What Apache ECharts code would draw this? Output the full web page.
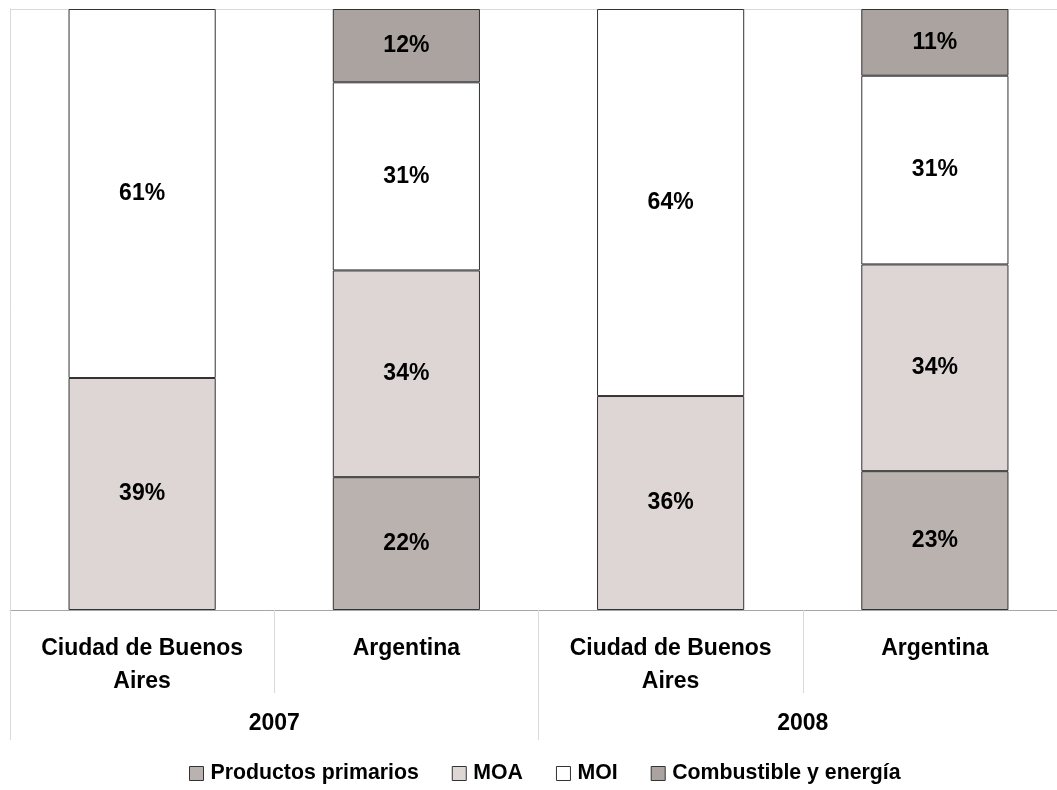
<!DOCTYPE html>
<html>
<head>
<meta charset="utf-8">
<script src="https://cdn.jsdelivr.net/npm/echarts@6/dist/echarts.min.js"></script>
<style>
  html, body { margin: 0; padding: 0; background: #fff; }
  #chart { width: 1057px; height: 790px; }
</style>
</head>
<body>
<div id="chart"></div>
<script>
  // categorias (region) y grupos (año)
  const regions = ['Ciudad de Buenos\nAires', 'Argentina', 'Ciudad de Buenos\nAires', 'Argentina']
  const years = ['2007', '2008']

  // participacion (%) por rubro
  const primarios = [0, 22.1, 0, 23.1]
  const moa = [38.6, 34.4, 35.6, 34.4]
  const moi = [61.4, 31.3, 64.4, 31.4]
  const combustible = [0, 12.2, 0, 11.1]

  const seriesNames = ['Productos primarios', 'MOA', 'MOI', 'Combustible y energía']
  const seriesData = [primarios, moa, moi, combustible]
  const seriesColors = ['#bab2af', '#ddd6d4', '#ffffff', '#aba3a0']

  const chart = echarts.init(document.getElementById('chart'))

  const option = {
    animation: false,
    textStyle: { fontFamily: 'Liberation Sans, Arial, sans-serif' },
    // el area del grafico sigue un poco mas alla del borde derecho
    grid: { left: 10, right: -10, top: 9, bottom: 180, outerBoundsMode: 'none', containLabel: false },
    legend: {
      data: seriesNames,
      bottom: 1,
      left: 184,
      itemWidth: 14,
      itemHeight: 14,
      itemGap: 33,
      icon: 'rect',
      textStyle: { fontSize: 21.3, fontWeight: 'bold', color: '#000', padding: [0, 0, 0, 2] },
      itemStyle: { borderColor: '#333', borderWidth: 1 }
    },
    xAxis: [
      {
        type: 'category',
        data: regions,
        position: 'bottom',
        axisLine: { show: true, lineStyle: { color: '#a6a6a6', width: 1 } },
        axisTick: { show: true, length: 83, lineStyle: { color: '#d9d9d9' } },
        axisLabel: {
          interval: 0,
          margin: 22,
          fontSize: 23,
          fontWeight: 'bold',
          color: '#000',
          lineHeight: 33,
          verticalAlign: 'top'
        }
      },
      {
        type: 'category',
        data: years,
        position: 'bottom',
        axisLine: { show: false },
        axisTick: { show: true, length: 130, lineStyle: { color: '#d9d9d9' } },
        axisLabel: {
          margin: 102,
          fontSize: 23,
          fontWeight: 'bold',
          color: '#000',
          verticalAlign: 'top'
        }
      }
    ],
    yAxis: {
      type: 'value',
      min: 0,
      max: 100,
      interval: 100,
      axisLine: { show: true, lineStyle: { color: '#d9d9d9' } },
      axisTick: { show: false },
      axisLabel: { show: false },
      splitLine: { show: true, lineStyle: { color: '#d9d9d9' } }
    },
    series: seriesNames.map((name, i) => ({
      name: name,
      type: 'bar',
      stack: 'total',
      xAxisIndex: 0,
      barWidth: '55.7%',
      data: seriesData[i].map(v => (v ? v : '-')),
      itemStyle: {
        color: seriesColors[i],
        borderColor: '#333',
        borderWidth: 1
      },
      label: {
        show: true,
        position: 'inside',
        fontSize: 23,
        fontWeight: 'bold',
        color: '#000',
        formatter: p => (p.value ? Math.round(p.value) + '%' : '')
      }
    }))
  }

  // dibujar grafico
  chart.setOption(option)
  window.onresize = () => {
    chart.resize()
  }
</script>
</body>
</html>
